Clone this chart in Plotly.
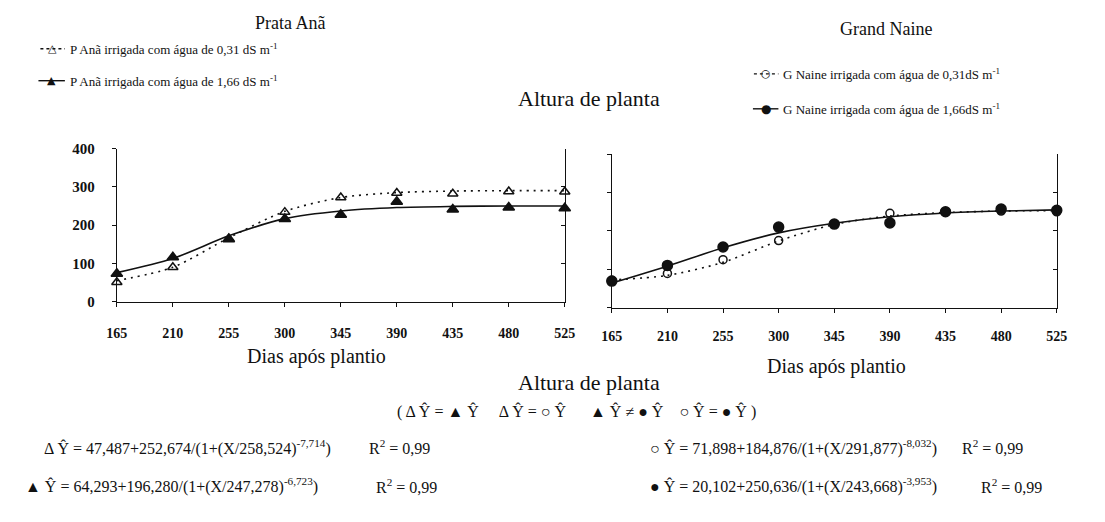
import plotly.graph_objects as go

# Days after planting (x categories shared by both panels)
days = [165, 210, 255, 300, 345, 390, 435, 480, 525]
y_ticks = [0, 100, 200, 300, 400]

# Prata Anã - observed plant height (cm)
pa_031_obs = [51, 90, 165, 234, 272, 284, 282, 288, 287]
pa_166_obs = [73, 116, 163, 216, 227, 261, 241, 246, 244]
# Prata Anã - fitted logistic curves evaluated at the sampling days
pa_031_fit = [55, 90, 167, 236, 272, 285, 289, 290, 290]
pa_166_fit = [76, 113, 172, 217, 237, 246, 249, 250, 250]

# Grand Naine - observed plant height (cm)
gn_031_obs = [71, 89, 125, 175, 218, 246, 250, 252, 250]
gn_166_obs = [69, 110, 158, 210, 218, 221, 250, 257, 254]
# Grand Naine - fitted logistic curves evaluated at the sampling days
gn_031_fit = [72, 84, 118, 174, 217, 239, 248, 252, 253]
gn_166_fit = [64, 108, 156, 195, 220, 237, 247, 252, 255]

W, H = 1105, 522
SERIF = "Liberation Serif"
BLACK = "#111111"
DOT = "2px,5px"


def px(x):
    return x / W


def py(y):
    return 1 - y / H


fig = go.Figure()


def add_series(xref, yref, fit, obs, dash, symbol, msize):
    fig.add_trace(go.Scatter(
        x=days, y=fit, mode="lines", xaxis=xref, yaxis=yref,
        line=dict(color=BLACK, width=1.6, dash=dash, shape="spline", smoothing=0.8),
        hoverinfo="skip", showlegend=False, cliponaxis=False))
    fig.add_trace(go.Scatter(
        x=days, y=obs, mode="markers", xaxis=xref, yaxis=yref,
        marker=dict(symbol=symbol, size=msize, color=BLACK,
                    line=dict(color=BLACK, width=1.5)),
        showlegend=False, cliponaxis=False))


add_series("x", "y", pa_031_fit, pa_031_obs, DOT, "triangle-up-open", 9)
add_series("x", "y", pa_166_fit, pa_166_obs, "solid", "triangle-up", 10)
add_series("x2", "y2", gn_031_fit, gn_031_obs, DOT, "circle-open", 8)
add_series("x2", "y2", gn_166_fit, gn_166_obs, "solid", "circle", 10)

# invisible traces so the right-hand mirror axes get drawn
fig.add_trace(go.Scatter(x=[None], y=[None], xaxis="x", yaxis="y3", showlegend=False))
fig.add_trace(go.Scatter(x=[None], y=[None], xaxis="x2", yaxis="y4", showlegend=False))

axis_common = dict(showline=True, linecolor=BLACK, linewidth=1, showgrid=False,
                   zeroline=False, ticks="outside", ticklen=4, tickcolor=BLACK)
x_labels = ["<b>%d</b>" % d for d in days]
xfont = dict(family=SERIF, size=14, color=BLACK)

left_x = [px(108), px(565)]
right_x = [px(613), px(1067)]
left_y = [py(303), py(145)]
right_y = [py(309), py(151)]

mirror_axis = dict(range=[0, 400], tickvals=y_ticks, showticklabels=False,
                   showline=True, linecolor=BLACK, linewidth=1, showgrid=False,
                   zeroline=False, ticks="inside", ticklen=4, tickcolor=BLACK,
                   side="right")

fig.update_layout(
    width=W, height=H, margin=dict(l=0, r=0, t=0, b=0),
    paper_bgcolor="white", plot_bgcolor="white",
    xaxis=dict(domain=left_x, range=[165, 525], anchor="y",
               tickvals=days, ticktext=x_labels, tickfont=xfont,
               ticklabelstandoff=14, **axis_common),
    yaxis=dict(domain=left_y, range=[0, 400], anchor="x",
               tickvals=y_ticks, ticktext=["<b>%d</b>" % v for v in y_ticks],
               tickfont=dict(family=SERIF, size=15, color=BLACK),
               ticklabelstandoff=14, **axis_common),
    yaxis3=dict(overlaying="y", anchor="x", **mirror_axis),
    xaxis2=dict(domain=right_x, range=[165, 525], anchor="y2",
                tickvals=days, ticktext=x_labels, tickfont=xfont,
                ticklabelstandoff=12, **axis_common),
    yaxis2=dict(domain=right_y, range=[0, 400], anchor="x2",
                tickvals=y_ticks, showticklabels=False, **axis_common),
    yaxis4=dict(overlaying="y2", anchor="x2", **mirror_axis),
)

annotations = []
shapes = []


def text(x, y, s, size, anchor="center"):
    annotations.append(dict(x=px(x), y=py(y), xref="paper", yref="paper",
                            text=s, showarrow=False, xanchor=anchor, yanchor="middle",
                            font=dict(family=SERIF, size=size, color=BLACK)))


# panel titles and headings
text(285, 15, "Prata Anã", 18)
text(893, 22, "Grand Naine", 18)
text(590, 93, "Altura de planta", 22)
text(312, 360, "Dias após plantio", 20)
text(842, 370, "Dias após plantio", 20)
text(590, 386, "Altura de planta", 22)


# legend entries: sample line + marker glyph + label
def legend_row(x0, x1, y, dash, glyph, gsize, label):
    shapes.append(dict(type="line", xref="paper", yref="paper",
                       x0=px(x0), x1=px(x1), y0=py(y), y1=py(y),
                       line=dict(color=BLACK, width=1.4,
                                 dash="dot" if dash else "solid")))
    annotations.append(dict(x=px((x0 + x1) / 2), y=py(y), xref="paper", yref="paper",
                            text=glyph, showarrow=False, xanchor="center",
                            yanchor="middle",
                            font=dict(family="DejaVu Sans", size=gsize, color=BLACK)))
    text(x1 + 3, y, label, 13, anchor="left")


legend_row(30, 55, 42, True, "△", 11,
           "P Anã irrigada com água de 0,31 dS m<sup>-1</sup>")
legend_row(28, 55, 75, False, "▲", 11,
           "P Anã irrigada com água de 1,66 dS m<sup>-1</sup>")
legend_row(758, 783, 68, True, "○", 11,
           "G Naine irrigada com água de 0,31dS m<sup>-1</sup>")
legend_row(757, 783, 104, False, "●", 12,
           "G Naine irrigada com água de 1,66dS m<sup>-1</sup>")

# regression summary
text(577, 416,
     "( Δ Ŷ = ▲ Ŷ &nbsp;&nbsp;&nbsp; Δ Ŷ = ○ Ŷ &nbsp;&nbsp;&nbsp;&nbsp; "
     "▲ Ŷ ≠ ● Ŷ &nbsp;&nbsp; ○ Ŷ = ● Ŷ )", 16)

text(32, 453, "Δ Ŷ = 47,487+252,674/(1+(X/258,524)<sup>-7,714</sup>)", 16, anchor="left")
text(363, 453, "R<sup>2</sup> = 0,99", 16, anchor="left")
text(12, 493, "▲ Ŷ = 64,293+196,280/(1+(X/247,278)<sup>-6,723</sup>)", 16, anchor="left")
text(370, 493, "R<sup>2</sup> = 0,99", 16, anchor="left")
text(650, 453, "○ Ŷ = 71,898+184,876/(1+(X/291,877)<sup>-8,032</sup>)", 16, anchor="left")
text(968, 453, "R<sup>2</sup> = 0,99", 16, anchor="left")
text(650, 493, "● Ŷ = 20,102+250,636/(1+(X/243,668)<sup>-3,953</sup>)", 16, anchor="left")
text(988, 493, "R<sup>2</sup> = 0,99", 16, anchor="left")

fig.update_layout(annotations=annotations, shapes=shapes)

fig.write_html("out.html")
